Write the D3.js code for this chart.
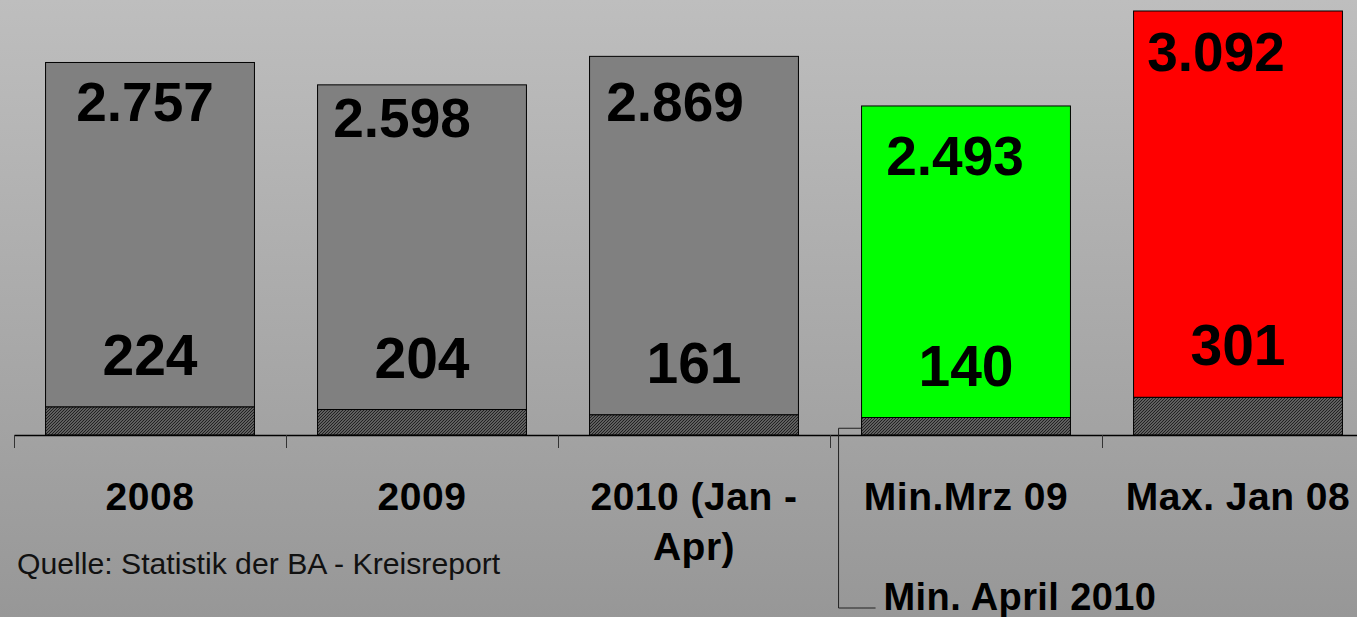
<!DOCTYPE html>
<html>
<meta charset="utf-8" />
<script src="https://d3js.org/d3.v7.min.js"></script>

<body>
    <style>
        body,
        html {
            margin: 0;
            padding: 0;
            width: 100%;
            height: 100%;
            overflow: hidden;
        }

        svg text {
            font-family: "Liberation Sans", Arial, sans-serif;
        }
    </style>

    <svg id="chart"></svg>

    <script>
        var categories = ["2008", "2009", "2010 (Jan - Apr)", "Min.Mrz 09", "Max. Jan 08"];
        var tickLines = [["2008"], ["2009"], ["2010 (Jan -", "Apr)"], ["Min.Mrz 09"], ["Max. Jan 08"]];
        var lowerValues = [224, 204, 161, 140, 301];
        var upperValues = [2757, 2598, 2869, 2493, 3092];
        var barColors = ["#808080", "#808080", "#808080", "#00ff00", "#ff0000"];
        var sourceText = "Quelle: Statistik der BA - Kreisreport";
        var calloutText = "Min. April 2010";

        // hand placed top labels (dx from bar centre, dy from bar top), like the original
        var topLabelNudge = [[-5, 59], [-20, 52], [-19, 65], [-11, 69], [-22, 60]];

        var width = 1357;
        var height = 617;
        var baseY = 435;

        var de = d3.formatLocale({ decimal: ",", thousands: ".", grouping: [3], currency: ["", " €"] });
        var fmt = de.format(",d");

        var svg = d3.select("#chart")
            .attr("width", width)
            .attr("height", height);

        var defs = svg.append("defs");
        var grad = defs.append("linearGradient")
            .attr("id", "bg")
            .attr("x1", 0).attr("y1", 0).attr("x2", 0).attr("y2", 1);
        grad.append("stop").attr("offset", "0%").attr("stop-color", "#bebebe");
        grad.append("stop").attr("offset", "100%").attr("stop-color", "#979797");

        var pat = defs.append("pattern")
            .attr("id", "hatch")
            .attr("patternUnits", "userSpaceOnUse")
            .attr("width", 3).attr("height", 3);
        pat.append("rect").attr("width", 3).attr("height", 3).attr("fill", "#7c7c7c");
        pat.append("path")
            .attr("d", "M-1,1 L1,-1 M0,3 L3,0 M2,4 L4,2")
            .attr("stroke", "#1e1e1e")
            .attr("stroke-width", 1.2);

        svg.append("rect")
            .attr("width", width)
            .attr("height", height)
            .attr("fill", "url(#bg)");

        var x = d3.scaleBand()
            .domain(categories)
            .range([14, 14 + 272 * categories.length])
            .padding(0);

        var y = d3.scaleLinear()
            .domain([0, 3481])
            .range([baseY, 0]);

        var barW = x.bandwidth() * 0.768;
        var barX = function (i) { return x(categories[i]) + (x.bandwidth() - barW) / 2; };
        var cx = function (i) { return x(categories[i]) + x.bandwidth() / 2; };

        var rows = categories.map(function (c, i) {
            return { cat: c, lower: lowerValues[i], upper: upperValues[i], i: i };
        });

        // upper segment
        svg.selectAll(".upper")
            .data(rows)
            .enter().append("rect")
            .attr("class", "upper")
            .attr("x", function (d) { return barX(d.i); })
            .attr("y", function (d) { return y(d.lower + d.upper); })
            .attr("width", barW)
            .attr("height", function (d) { return y(d.lower) - y(d.lower + d.upper); })
            .attr("fill", function (d) { return barColors[d.i]; })
            .attr("stroke", "#000")
            .attr("stroke-width", 1);

        // lower hatched segment
        svg.selectAll(".lower")
            .data(rows)
            .enter().append("rect")
            .attr("class", "lower")
            .attr("x", function (d) { return barX(d.i); })
            .attr("y", function (d) { return y(d.lower); })
            .attr("width", barW)
            .attr("height", function (d) { return y(0) - y(d.lower); })
            .attr("fill", "url(#hatch)")
            .attr("stroke", "#000")
            .attr("stroke-width", 1);

        // axis
        var axis = svg.append("g")
            .attr("transform", "translate(0," + baseY + ")")
            .call(d3.axisBottom(x).tickSize(0).tickFormat(""));
        axis.select(".domain").attr("stroke", "#000").attr("stroke-width", 1.5);

        svg.selectAll(".tickmark")
            .data(categories)
            .enter().append("line")
            .attr("class", "tickmark")
            .attr("x1", function (d) { return Math.round(x(d)) + 0.5; })
            .attr("x2", function (d) { return Math.round(x(d)) + 0.5; })
            .attr("y1", baseY)
            .attr("y2", baseY + 13)
            .attr("stroke", "#333")
            .attr("stroke-width", 1);

        // category labels
        var cl = svg.selectAll(".catlabel")
            .data(rows)
            .enter().append("text")
            .attr("class", "catlabel")
            .attr("text-anchor", "middle")
            .attr("font-size", 39)
            .attr("font-weight", "bold")
            .attr("letter-spacing", 0.5)
            .attr("fill", "#000");
        cl.selectAll("tspan")
            .data(function (d) { return tickLines[d.i].map(function (t) { return { t: t, i: d.i }; }); })
            .enter().append("tspan")
            .attr("x", function (d) { return cx(d.i); })
            .attr("y", function (d, j) { return 510 + j * 50; })
            .text(function (d) { return d.t; });

        // value labels
        svg.selectAll(".toplabel")
            .data(rows)
            .enter().append("text")
            .attr("class", "toplabel")
            .attr("text-anchor", "middle")
            .attr("font-size", 55)
            .attr("font-weight", "bold")
            .attr("x", function (d) { return cx(d.i) + topLabelNudge[d.i][0]; })
            .attr("y", function (d) { return y(d.lower + d.upper) + topLabelNudge[d.i][1]; })
            .text(function (d) { return fmt(d.upper); });

        svg.selectAll(".lowlabel")
            .data(rows)
            .enter().append("text")
            .attr("class", "lowlabel")
            .attr("text-anchor", "middle")
            .attr("font-size", 57)
            .attr("font-weight", "bold")
            .attr("x", function (d) { return cx(d.i); })
            .attr("y", function (d) { return y(d.lower) - 32; })
            .text(function (d) { return fmt(d.lower); });

        // callout for the minimum of April 2010
        var mi = 3;
        var lx = barX(mi) - 23;
        var ly = y(lowerValues[mi] / 2) + 2;
        svg.append("path")
            .attr("d", "M" + barX(mi) + "," + ly + " H" + lx + " V608 H" + (lx + 37))
            .attr("fill", "none")
            .attr("stroke", "#222")
            .attr("stroke-width", 1);
        svg.append("text")
            .attr("x", lx + 45)
            .attr("y", 610)
            .attr("font-size", 38)
            .attr("font-weight", "bold")
            .attr("letter-spacing", 0.4)
            .text(calloutText);

        // source
        svg.append("text")
            .attr("x", 17)
            .attr("y", 574)
            .attr("font-size", 30.2)
            .attr("fill", "#111")
            .text(sourceText);
    </script>
</body>

</html>
